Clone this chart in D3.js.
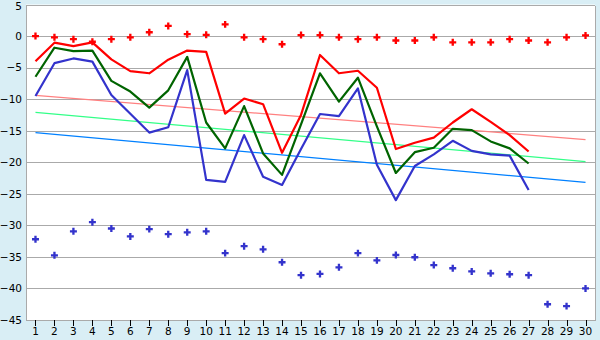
<!DOCTYPE html>
<html>
<head>
<meta charset="utf-8">
<script src="https://cdn.jsdelivr.net/npm/d3@7/dist/d3.min.js"></script>
<style>
  html, body { margin: 0; padding: 0; background: #d9eef5; }
  svg { display: block; }
  text { font-family: "DejaVu Sans", Verdana, sans-serif; font-size: 10.5px; fill: #000; }
</style>
</head>
<body>
<svg id="chart" width="600" height="340"></svg>
<script>
// Days of the month on the x axis
const days = d3.range(1, 31);
const lineDays = d3.range(1, 28);

// Daily series (days 1-27)
const redLine = [-4.0, -1.05, -1.6, -1.0, -3.7, -5.55, -5.9, -3.75, -2.3, -2.5,
  -12.3, -9.9, -10.8, -18.5, -12.5, -3.0, -5.9, -5.5, -8.2, -17.9,
  -16.9, -16.1, -13.7, -11.6, -13.6, -15.7, -18.3];
const greenLine = [-6.45, -1.85, -2.4, -2.3, -7.1, -8.8, -11.35, -8.6, -3.3, -13.7,
  -17.8, -11.1, -18.6, -22.0, -14.0, -5.9, -10.4, -6.6, -14.3, -21.7,
  -18.4, -17.7, -14.7, -14.9, -16.7, -17.8, -20.2];
const blueLine = [-9.5, -4.3, -3.55, -4.05, -9.35, -12.3, -15.3, -14.45, -5.4, -22.8,
  -23.1, -15.7, -22.3, -23.6, -17.9, -12.35, -12.7, -8.3, -20.4, -26.0,
  -20.6, -18.75, -16.6, -18.2, -18.75, -18.95, -24.4];

// Point series (days 1-30)
const redPoints = [0.0, -0.2, -0.5, -0.9, -0.5, -0.2, 0.6, 1.6, 0.3, 0.2,
  1.85, -0.2, -0.5, -1.3, 0.15, 0.15, -0.2, -0.5, -0.2, -0.7,
  -0.7, -0.2, -1.0, -1.0, -1.0, -0.5, -0.7, -1.0, -0.2, 0.1];
const bluePoints = [-32.2, -34.75, -30.95, -29.5, -30.5, -31.75, -30.6, -31.4, -31.1, -30.95,
  -34.4, -33.3, -33.8, -35.85, -37.9, -37.7, -36.65, -34.4, -35.55, -34.7,
  -35.05, -36.3, -36.8, -37.3, -37.6, -37.75, -37.9, -42.5, -42.8, -40.0];

// Trend lines (start and end day)
const trendDays = [1, 30];
const redTrend = [-9.4, -16.4];
const greenTrend = [-12.1, -19.9];
const blueTrend = [-15.3, -23.2];

const yTicks = [5, 0, -5, -10, -15, -20, -25, -30, -35, -40, -45];

const W = 600, H = 340;
const plot = { left: 26, right: 595, top: 4.5, bottom: 320 };

const svg = d3.select("#chart");

const x = d3.scaleBand().domain(days).range([plot.left, plot.right]);
const cx = d => x(d) + x.bandwidth() / 2;
const y = d3.scaleLinear().domain([-45, 5]).range([plot.bottom, plot.top]);
const snap = v => Math.round(v) + 0.5;

// Page and plot backgrounds
svg.append("rect").attr("width", W).attr("height", H).attr("fill", "#d9eef5");
svg.append("rect")
  .attr("x", plot.left).attr("y", plot.top)
  .attr("width", plot.right - plot.left).attr("height", plot.bottom - plot.top)
  .attr("fill", "#ffffff");

// Horizontal grid lines
svg.append("g").selectAll("line").data(yTicks).join("line")
  .attr("x1", plot.left).attr("x2", plot.right)
  .attr("y1", d => snap(y(d))).attr("y2", d => snap(y(d)))
  .attr("stroke", "#aaaaaa").attr("shape-rendering", "crispEdges");

// Plot frame (left and right edges)
svg.append("line")
  .attr("x1", snap(plot.left)).attr("x2", snap(plot.left))
  .attr("y1", snap(y(5))).attr("y2", snap(y(-45)))
  .attr("stroke", "#aaaaaa").attr("shape-rendering", "crispEdges");
svg.append("line")
  .attr("x1", snap(plot.right)).attr("x2", snap(plot.right))
  .attr("y1", snap(y(5))).attr("y2", snap(y(-45)))
  .attr("stroke", "#aaaaaa").attr("shape-rendering", "crispEdges");

// Y axis labels (the top label is nudged down to stay inside the page)
const yAxis = d3.axisLeft(y).tickValues(yTicks).tickSize(0).tickPadding(4)
  .tickFormat(d3.format("d"));
const gy = svg.append("g").attr("transform", `translate(${plot.left},0)`).call(yAxis);
gy.select(".domain").remove();
gy.selectAll("text").attr("font-size", null).attr("font-family", null)
  .attr("dy", d => d === 5 ? "0.32em" : "0.32em")
  .attr("y", d => d === 5 ? 2 : 0);

// X axis ticks and labels
const xAxis = d3.axisBottom(x).tickSize(6).tickPadding(2);
const gx = svg.append("g").attr("transform", `translate(0,${Math.round(plot.bottom)})`).call(xAxis);
gx.select(".domain").remove();
gx.selectAll(".tick line").attr("stroke", "#000").attr("shape-rendering", "crispEdges")
  .attr("transform", "translate(0.5,0)");
gx.selectAll("text").attr("font-size", null).attr("font-family", null);

// Trend lines
const line = d3.line().x(d => d[0]).y(d => d[1]);
const trendPath = vals => line(trendDays.map((d, i) => [cx(d), y(vals[i])]));
[[redTrend, "#ff8080"], [greenTrend, "#33ff88"], [blueTrend, "#0080ff"]].forEach(([vals, col]) => {
  svg.append("path").attr("d", trendPath(vals))
    .attr("fill", "none").attr("stroke", col).attr("stroke-width", 1.2);
});

// Daily lines
const seriesPath = vals => line(lineDays.map((d, i) => [cx(d), y(vals[i])]));
[[blueLine, "#3333cc"], [greenLine, "#006400"], [redLine, "#ff0000"]].forEach(([vals, col]) => {
  svg.append("path").attr("d", seriesPath(vals))
    .attr("fill", "none").attr("stroke", col).attr("stroke-width", 2.2)
    .attr("stroke-linejoin", "round");
});

// Point markers
const cross = d3.symbol().type(d3.symbolCross).size(27);
[[redPoints, "#ff0000"], [bluePoints, "#3333cc"]].forEach(([vals, col]) => {
  svg.append("g").selectAll("path").data(days).join("path")
    .attr("transform", (d, i) => `translate(${cx(d)},${y(vals[i])})`)
    .attr("d", cross).attr("fill", col);
});
</script>
</body>
</html>
